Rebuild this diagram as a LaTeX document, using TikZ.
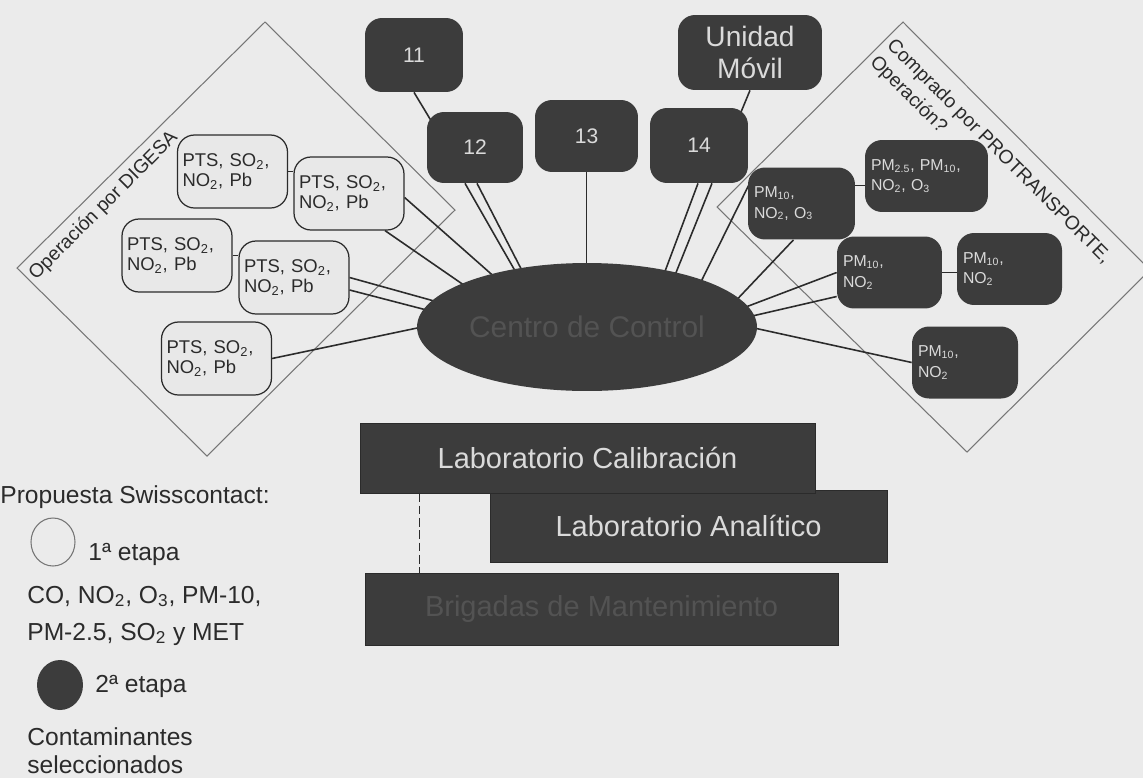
\documentclass[tikz,border=0pt]{standalone}
\usepackage{fontspec}
\setmainfont{Liberation Sans}
\usetikzlibrary{shapes.geometric,calc}
\pgfdeclarelayer{canvas}
\pgfdeclarelayer{wires}
\pgfsetlayers{canvas,wires,main}

\definecolor{paper}{HTML}{EBEBEB}
\definecolor{ink}{HTML}{2B2B2B}
\definecolor{darkbox}{HTML}{3C3C3C}
\definecolor{palebox}{HTML}{E8E8E8}
\definecolor{frame}{HTML}{767676}
\definecolor{lighttext}{HTML}{DADADA}
\definecolor{dimtext}{HTML}{535353}

\begin{document}
\begin{tikzpicture}[x=0.02cm,y=-0.02cm,
  station/.style={rectangle, rounded corners=0.34cm, draw=ink, line width=0.7pt,
    fill=palebox, minimum width=2.2cm, minimum height=1.46cm, text width=2.0cm,
    inner xsep=0.1cm, inner ysep=2pt, align=left, text=ink,
    font=\fontsize{10.5}{11.5}\selectfont},
  darkstation/.style={rectangle, rounded corners=0.34cm, fill=darkbox, text=lighttext,
    minimum height=1.44cm, inner xsep=0.12cm, inner ysep=2pt, align=left,
    font=\fontsize{9}{11.5}\selectfont},
  topstation/.style={rectangle, rounded corners=0.34cm, fill=darkbox, text=lighttext,
    inner sep=2pt, align=center, font=\fontsize{12}{14}\selectfont},
  labbar/.style={rectangle, fill=darkbox, draw=ink, line width=0.4pt, inner sep=0pt,
    text=lighttext, font=\fontsize{16.5}{18}\selectfont},
  wire/.style={draw=ink, line width=0.9pt},
  zone/.style={draw=frame, line width=0.6pt},
  zonelabel/.style={inner sep=0pt, text=ink, font=\fontsize{11}{13.5}\selectfont},
  legend/.style={anchor=base west, inner sep=0pt, text=ink,
    font=\fontsize{14}{16}\selectfont}
]

% page and paper
\useasboundingbox (0,0) rectangle (1143,778);
\begin{pgfonlayer}{canvas}
  \fill[paper] (0,0) rectangle (1143,778);
\end{pgfonlayer}

% first-stage stations (DIGESA)
\node[station] (a) at (232.5,171.5) {PTS, SO\textsubscript{2},\\NO\textsubscript{2}, Pb};
\node[station] (b) at (349,193.5)   {PTS, SO\textsubscript{2},\\NO\textsubscript{2}, Pb};
\node[station] (c) at (177,255.5)   {PTS, SO\textsubscript{2},\\NO\textsubscript{2}, Pb};
\node[station] (d) at (294,277.5)   {PTS, SO\textsubscript{2},\\NO\textsubscript{2}, Pb};
\node[station] (e) at (216.5,358.5) {PTS, SO\textsubscript{2},\\NO\textsubscript{2}, Pb};

% numbered stations and mobile unit
\node[topstation, minimum width=1.96cm, minimum height=1.48cm] (s11) at (414,55) {11};
\node[topstation, minimum width=1.92cm, minimum height=1.42cm] (s12) at (475,147.5) {12};
\node[topstation, minimum width=2.06cm, minimum height=1.44cm] (s13) at (586.5,136) {13};
\node[topstation, minimum width=1.96cm, minimum height=1.5cm]  (s14) at (699,145.5) {14};
\node[topstation, minimum width=2.88cm, minimum height=1.5cm,
      font=\fontsize{16}{18}\selectfont] (um) at (750,52.5) {Unidad\\Móvil};

% PROTRANSPORTE stations
\node[darkstation, minimum width=2.14cm, text width=1.9cm] (f) at (801.5,203.5)
  {PM\textsubscript{10},\\NO\textsubscript{2}, O\textsubscript{3}};
\node[darkstation, minimum width=2.46cm, text width=2.22cm] (g) at (926.5,176)
  {PM\textsubscript{2.5}, PM\textsubscript{10},\\NO\textsubscript{2}, O\textsubscript{3}};
\node[darkstation, minimum width=2.1cm, text width=1.86cm] (h) at (889.5,272.5)
  {PM\textsubscript{10},\\NO\textsubscript{2}};
\node[darkstation, minimum width=2.1cm, text width=1.86cm] (i) at (1009.5,269)
  {PM\textsubscript{10},\\NO\textsubscript{2}};
\node[darkstation, minimum width=2.12cm, text width=1.88cm] (j) at (965,362.5)
  {PM\textsubscript{10},\\NO\textsubscript{2}};

% control centre
\node[ellipse, fill=darkbox, minimum width=6.8cm, minimum height=2.56cm, inner sep=0pt,
      text=dimtext, font=\fontsize{17}{19}\selectfont] (cc) at (587,327) {Centro de Control};

% laboratories and maintenance
\node[labbar, minimum width=7.94cm, minimum height=1.44cm] (la) at (688.5,526) {Laboratorio Analítico};
\node[labbar, minimum width=9.1cm, minimum height=1.4cm] (lc) at (587.5,458) {Laboratorio Calibración};
\node[labbar, minimum width=9.46cm, minimum height=1.44cm, text=dimtext] (bm) at (601.5,609) {Brigadas de Mantenimiento};

\coordinate (dtop) at ($(lc.south west)+(60,0)$);
\draw[ink, line width=0.8pt, dash pattern=on 5pt off 2pt] (dtop) -- (dtop |- bm.north);

% operator zones
\begin{pgfonlayer}{wires}
  \draw[zone] (265,22) -- (455,210) -- (207,456) -- (17,268) -- cycle;
  \draw[zone] (903,22) -- (1150,270) -- (967,452) -- (717,207) -- cycle;
\end{pgfonlayer}
\node[zonelabel, rotate=45, anchor=base west] (zl) at (36,281) {Operación por DIGESA};
\node[zonelabel, rotate=-45, anchor=north west, align=left] (zr) at (896,36)
  {Comprado por PROTRANSPORTE,\\Operación?};

% links to the control centre
\begin{pgfonlayer}{wires}
  \draw[wire] (a.east) -- (a.east -| b.west);
  \draw[wire] (c.east) -- (c.east -| d.west);
  \draw[wire] ($(b.east)+(0,4)$) -- ($(cc.center)+(-72,-32)$);
  \draw[wire] ($(b.south)+(36,0)$) -- ($(cc.center)+(-87,-17)$);
  \draw[wire] (d.east) -- ($(cc.center)+(-117,-16)$);
  \draw[wire] ($(d.east)+(0,12.5)$) -- ($(cc.center)+(-122,-7)$);
  \draw[wire] (e.east) -- ($(cc.center)+(-127,-8)$);

  \draw[wire] (s11.south) -- ($(s12.north west)+(5,10)$);
  \draw[wire] ($(s12.south)+(-10,0)$) -- ($(cc.center)+(-61,-37)$);
  \draw[wire] ($(s12.south)+(2,0)$) -- ($(cc.center)+(-55,-37)$);
  \draw[wire] (s13.south) -- (s13.south |- cc.center);
  \draw[wire] ($(s14.south)+(-1,0)$) -- ($(cc.center)+(71,-37)$);
  \draw[wire] ($(s14.south)+(13,0)$) -- ($(cc.center)+(82,-37)$);
  \draw[wire] (um.south) -- ($(s14.north east)+(-8,6)$);

  \draw[wire] ($(f.north west)+(5,10)$) -- ($(cc.center)+(105,-27)$);
  \draw[wire] ($(f.south)+(-8,0)$) -- ($(cc.center)+(141,-18)$);
  \coordinate (fg) at ($(f.east)+(0,-18)$);
  \draw[wire] (fg) -- (fg -| g.west);
  \draw[wire] (h.east) -- (h.east -| i.west);
  \draw[wire] (h.west) -- ($(cc.center)+(143,-14)$);
  \draw[wire] ($(h.west)+(0,24)$) -- ($(cc.center)+(148,-7)$);
  \draw[wire] (j.west) -- ($(cc.center)+(158,-1)$);
\end{pgfonlayer}

% legend
\node[legend] (lg0) at (0,503) {Propuesta Swisscontact:};
\node[ellipse, draw=frame, line width=0.6pt, minimum width=0.88cm, minimum height=0.96cm,
      inner sep=0pt] (k1) at (53,542) {};
\node[legend] (lg1) at (88,560) {1ª etapa};
\node[legend] (lg2) at (27,603) {CO, NO\textsubscript{2}, O\textsubscript{3}, PM-10,};
\node[legend] (lg3) at (27,640) {PM-2.5, SO\textsubscript{2} y MET};
\node[ellipse, fill=darkbox, minimum width=0.92cm, minimum height=1.0cm,
      inner sep=0pt] (k2) at (60,685) {};
\node[legend] (lg4) at (95,692) {2ª etapa};
\node[legend] (lg5) at (27,745) {Contaminantes};
\node[legend] (lg6) at (27,773) {seleccionados};

\end{tikzpicture}
\end{document}
